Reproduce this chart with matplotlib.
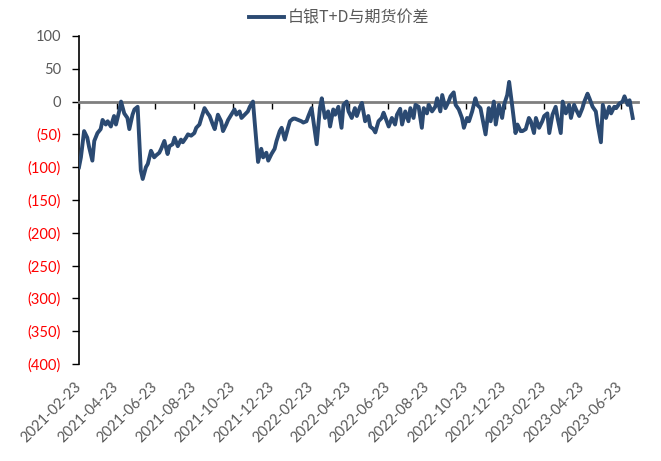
import matplotlib
matplotlib.use("Agg")
import matplotlib.pyplot as plt
import pandas as pd

plt.rcParams['font.family'] = ['Lato', 'Noto Sans CJK SC', 'DejaVu Sans']

start = "2021-02-23"
end = "2023-07-20"
series_name = "白银T+D与期货价差"

# spread, sampled every 3 trading days
spread = [
    -100, -85, -45, -55, -70, -90, -60, -48, -42, -28,
    -35, -30, -38, -22, -35, -15, 0, -18, -25, -42,
    -20, -12, -8, -105, -118, -100, -95, -75, -85, -82,
    -78, -72, -60, -80, -68, -65, -55, -68, -58, -62,
    -55, -50, -52, -48, -40, -35, -25, -10, -18, -22,
    -35, -42, -20, -30, -45, -35, -28, -20, -12, -20,
    -15, -25, -20, -15, -8, 0, -35, -92, -72, -85,
    -78, -90, -80, -72, -60, -45, -40, -58, -40, -30,
    -26, -26, -28, -30, -32, -30, -22, -10, -45, -65,
    -10, 5, -25, -15, -38, -12, -20, -8, -40, -5,
    0, -15, -25, -10, -22, -8, -2, -30, -22, -38,
    -42, -47, -30, -25, -17, -30, -38, -25, -35, -20,
    -11, -35, -15, -30, -10, -25, -5, -8, -40, -10,
    -18, -5, -15, -8, 5, -15, 10, -10, 0, 8,
    14, -5, -12, -25, -40, -25, -30, -15, 5, -5,
    -10, -25, -50, -10, -30, 0, -35, -5, -25, -5,
    10, 30, -8, -48, -35, -45, -45, -42, -25, -30,
    -48, -25, -40, -30, -22, -18, -48, -20, -8, -25,
    -48, 0, -18, -5, -25, -5, -12, -22, -10, 0,
    12, 5, -8, -15, -35, -62, -5, -25, -8, -18,
    -8, -10, -3, 0, 8, -5, 2, -25,
]

yticks = list(range(-400, 101, 50))

dates = pd.bdate_range(start, periods=len(spread), freq="3B")
tick_dates = pd.date_range(start, periods=15, freq=pd.DateOffset(months=2))

fig = plt.figure(figsize=(6.61, 4.61), dpi=100)
ax = fig.add_axes([0.1195, 0.2104, 0.8455, 0.7116])

ax.plot(dates, spread, color="#2B4A72", lw=2.8, label=series_name, zorder=3)

ax.set_ylim(-400, 100)
ax.set_xlim(pd.Timestamp(start), pd.Timestamp(end))

# y axis: parentheses + red for negatives
ax.set_yticks(yticks)
ax.set_yticklabels([f"({abs(v)})" if v < 0 else str(v) for v in yticks])
for lbl, v in zip(ax.get_yticklabels(), yticks):
    lbl.set_color("#FF0000" if v < 0 else "#595959")
ax.tick_params(axis="y", length=5, width=1, color="black", labelsize=10.5, pad=8)
ax.spines["left"].set_linewidth(1.2)

# x axis line sits at zero, labels stay at the bottom
ax.spines["bottom"].set_position(("data", 0))
ax.spines["bottom"].set_color("#7F7F7F")
ax.spines["bottom"].set_linewidth(2)
ax.spines["top"].set_visible(False)
ax.spines["right"].set_visible(False)
ax.set_xticks(tick_dates)
ax.set_xticklabels([])
ax.tick_params(axis="x", length=5, width=1, color="black", direction="out")

sec = ax.secondary_xaxis("bottom")
sec.set_xticks(tick_dates)
sec.set_xticklabels([d.strftime("%Y-%m-%d") for d in tick_dates],
                    rotation=45, ha="right", va="center",
                    rotation_mode="anchor", color="#595959", fontsize=10.5)
sec.tick_params(length=0, pad=15)
sec.spines["bottom"].set_visible(False)

leg = ax.legend(loc="lower center", bbox_to_anchor=(0.465, 1.0), frameon=False,
                handlelength=2.2, handletextpad=0.2, borderaxespad=0.2,
                prop={"family": ["Noto Sans CJK SC"], "size": 11.5})
for t in leg.get_texts():
    t.set_color("#595959")

fig.savefig("out.png", dpi=100)
